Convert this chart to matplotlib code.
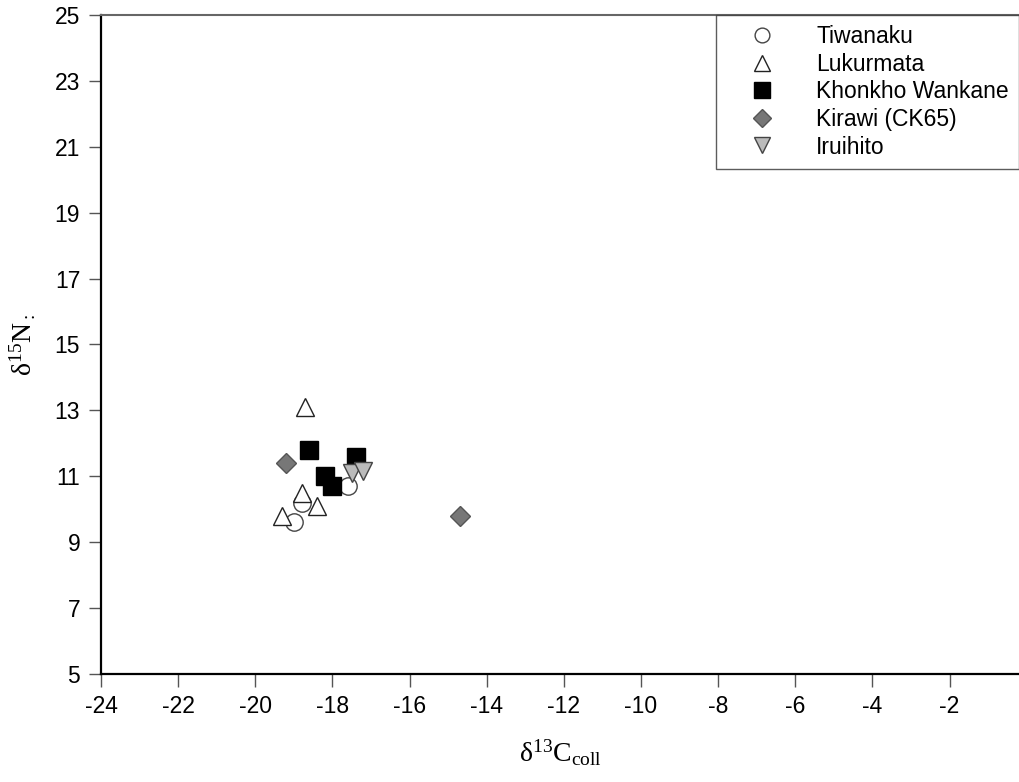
import matplotlib
matplotlib.use("Agg")
import matplotlib.pyplot as plt

# delta13C / delta15N values
tiwanaku_x = [-17.6, -18.8, -19.0]
tiwanaku_y = [10.7, 10.2, 9.6]

lukurmata_x = [-18.7, -18.8, -18.4, -19.3]
lukurmata_y = [13.1, 10.5, 10.1, 9.8]

khonkho_x = [-18.6, -17.4, -18.2, -18.0]
khonkho_y = [11.8, 11.6, 11.0, 10.7]

kirawi_x = [-19.2, -14.7]
kirawi_y = [11.4, 9.8]

iruihito_x = [-17.5, -17.2]
iruihito_y = [11.1, 11.15]

x_ticks = list(range(-24, 0, 2))
y_ticks = list(range(5, 26, 2))

plt.rcParams["font.family"] = ["Liberation Sans", "DejaVu Sans"]
plt.rcParams["axes.unicode_minus"] = False
plt.rcParams["mathtext.fontset"] = "custom"
plt.rcParams["mathtext.rm"] = "Liberation Serif"
plt.rcParams["mathtext.it"] = "Liberation Serif:italic"

fig = plt.figure(figsize=(10.2, 7.82), dpi=100)
ax = fig.add_axes([0.099, 0.138, 0.9, 0.843])

ax.plot(tiwanaku_x, tiwanaku_y, "o", ms=12.5, mfc="none", mec="#444444",
        mew=1.0, label="Tiwanaku")
ax.plot(lukurmata_x, lukurmata_y, "^", ms=13.5, mfc="white", mec="#222222",
        mew=1.0, label="Lukurmata")
ax.plot(khonkho_x, khonkho_y, "s", ms=13, mfc="black", mec="black",
        mew=1.0, label="Khonkho Wankane")
ax.plot(kirawi_x, kirawi_y, "D", ms=10.5, mfc="#777777", mec="#555555",
        mew=1.0, label="Kirawi (CK65)")
ax.plot(iruihito_x, iruihito_y, "v", ms=13.5, mfc="#bbbbbb", mec="#444444",
        mew=1.0, label="Iruihito")

ax.set_xlim(-24, -0.2)
ax.set_ylim(5, 25)
ax.set_xticks(x_ticks)
ax.set_yticks(y_ticks)
ax.tick_params(direction="out", length=9, width=1.0, color="#555555",
               labelsize=16.5, pad=6)

for side in ("left", "bottom"):
    ax.spines[side].set_color("black")
    ax.spines[side].set_linewidth(1.6)
ax.spines["top"].set_color("#666666")
ax.spines["top"].set_linewidth(1.5)
ax.spines["right"].set_visible(False)

ax.set_xlabel(r"$\mathrm{\delta^{13}C_{coll}}$", fontsize=20, labelpad=14)
ax.set_ylabel(r"$\mathrm{\delta^{15}N_{:}}$", fontsize=20, labelpad=12)

leg = ax.legend(loc="upper right", bbox_to_anchor=(1.0, 1.0),
                borderaxespad=0, fontsize=16.5, markerscale=0.85,
                frameon=True, fancybox=False, handletextpad=0.83,
                labelspacing=0.2, borderpad=0.45, handlelength=3.1)
leg.get_frame().set_edgecolor("#333333")
leg.get_frame().set_linewidth(1.0)

fig.savefig("out.png", dpi=100)
